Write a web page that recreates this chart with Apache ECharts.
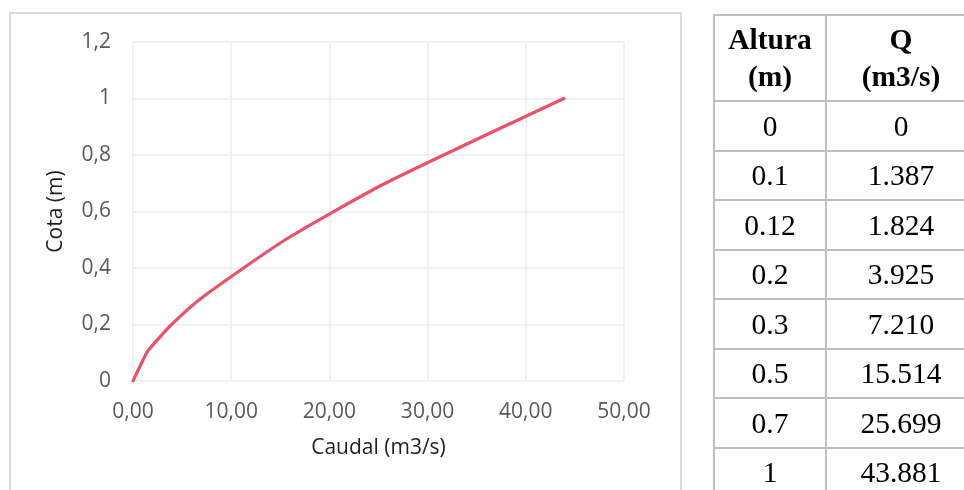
<!DOCTYPE html>
<html>
<head>
<meta charset="utf-8">
<script src="https://cdn.jsdelivr.net/npm/echarts@6/dist/echarts.min.js"></script>
<style>
  html, body { margin: 0; padding: 0; background: #fff; }
  #stage { position: relative; width: 964px; height: 490px; overflow: hidden; }
  #frame { position: absolute; left: 9px; top: 12px; width: 673px; height: 500px;
           border: 2px solid #d9d9d9; box-sizing: border-box; }
  #chart { position: absolute; left: 0; top: 0; width: 964px; height: 490px; }
  #tbl { position: absolute; left: 713px; top: 14px; border-collapse: collapse;
         table-layout: fixed; width: 262px;
         font-family: "Liberation Serif", "Times New Roman", serif; color: #000; }
  #tbl td, #tbl th { border: 2px solid #bfbfbf; padding: 0; text-align: center;
                     font-size: 29.5px; line-height: 32px; box-sizing: border-box; }
  #tbl th { height: 86px; font-weight: bold; line-height: 37px; }
  #tbl td { height: 49.5px; }
  #tbl .c1 { width: 112px; }
  #tbl .c2 { width: 150px; }
</style>
</head>
<body>
<div id="stage">
  <div id="frame"></div>
  <div id="chart"></div>
  <table id="tbl"></table>
</div>
<script>
// Rating curve: water height (m) against discharge (m3/s)
const altura = [0, 0.1, 0.12, 0.2, 0.3, 0.5, 0.7, 1];
const caudal = [0, 1.387, 1.824, 3.925, 7.210, 15.514, 25.699, 43.881];
const alturaText = ['0', '0.1', '0.12', '0.2', '0.3', '0.5', '0.7', '1'];
const caudalText = ['0', '1.387', '1.824', '3.925', '7.210', '15.514', '25.699', '43.881'];
const headers = [['Altura', '(m)'], ['Q', '(m3/s)']];

// Side table
const tbl = document.getElementById('tbl');
let html = '<colgroup><col class="c1"><col class="c2"></colgroup>' +
           '<tr><th>' + headers[0].join('<br>') + '</th><th>' +
           headers[1].join('<br>') + '</th></tr>';
for (let i = 0; i < alturaText.length; i++) {
  html += '<tr><td>' + alturaText[i] + '</td><td>' + caudalText[i] + '</td></tr>';
}
tbl.innerHTML = html;

const comma = (v, d) => v.toFixed(d).replace('.', ',');
const fontFam = '"Open Sans", sans-serif';

const chart = echarts.init(document.getElementById('chart'));
chart.setOption({
  animation: false,
  grid: { left: 133, top: 42, right: 340, bottom: 109, containLabel: false },
  xAxis: {
    type: 'value', min: 0, max: 50, interval: 10,
    name: 'Caudal (m3/s)', nameLocation: 'middle', nameGap: 57,
    nameTextStyle: { fontFamily: fontFam, fontSize: 21, color: '#1e1e1e' },
    axisLine: { show: false }, axisTick: { show: false },
    axisLabel: { margin: 21, fontFamily: fontFam, fontSize: 21, color: '#595959',
                 formatter: v => comma(v, 2) },
    splitLine: { show: true, lineStyle: { color: '#ececec', width: 1.5 } }
  },
  yAxis: {
    type: 'value', min: 0, max: 1.2, interval: 0.2,
    name: 'Cota (m)', nameLocation: 'middle', nameGap: 66, nameRotate: 90,
    nameTextStyle: { fontFamily: fontFam, fontSize: 21, color: '#1e1e1e' },
    axisLine: { show: false }, axisTick: { show: false },
    axisLabel: { margin: 22, fontFamily: fontFam, fontSize: 21, color: '#595959',
                 formatter: v => (Math.round(v * 10) / 10).toString().replace('.', ',') },
    splitLine: { show: true, lineStyle: { color: '#ececec', width: 1.5 } }
  },
  series: [{
    type: 'line',
    data: caudal.map((q, i) => [q, altura[i]]),
    showSymbol: false,
    smooth: 0.2,
    lineStyle: { color: '#e8526a', width: 3.2, cap: 'round', join: 'round' }
  }]
});
</script>
</body>
</html>
